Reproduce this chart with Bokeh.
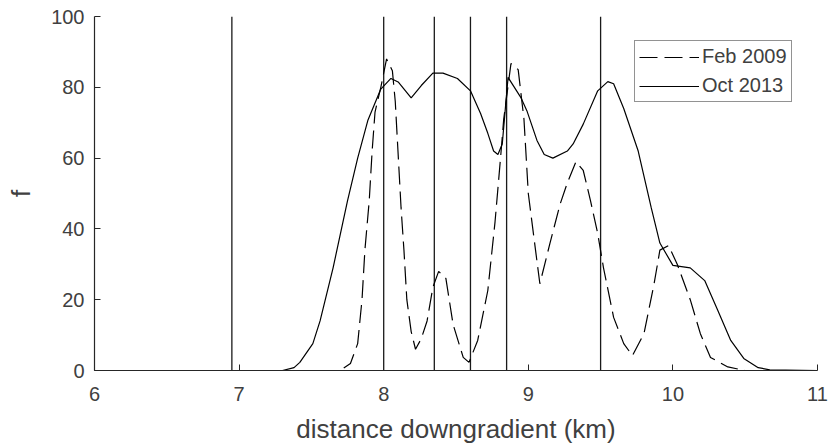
from bokeh.plotting import figure
from bokeh.models import Range1d, Legend, LegendItem, FixedTicker, ColumnDataSource
from bokeh.embed import file_html
from bokeh.resources import INLINE

# --- data ---
oct2013_x = [6.0, 7.3, 7.38, 7.42, 7.51, 7.56, 7.65, 7.75, 7.82, 7.89, 7.98, 8.05, 8.1,
             8.19, 8.26, 8.34, 8.41, 8.51, 8.6, 8.67, 8.72, 8.76, 8.79, 8.82, 8.86, 8.95,
             8.99, 9.06, 9.11, 9.17, 9.27, 9.31, 9.38, 9.48, 9.55, 9.59, 9.66, 9.76, 9.85,
             9.91, 10.0, 10.12, 10.22, 10.31, 10.4, 10.49, 10.59, 10.67, 11.0]
oct2013_y = [0, 0, 0.8, 2.3, 7.6, 14, 29, 48, 60, 70.6, 79.5, 82.5, 81.5,
             77, 80.5, 84, 84, 82.5, 79, 72.6, 67, 62, 61, 64, 82.8, 77,
             73.4, 65, 61, 60, 62, 64, 69.6, 79, 81.6, 81, 74, 62, 46,
             36, 29.7, 29, 25.4, 17, 8.5, 3.4, 0.8, 0.2, 0]

feb2009_x = [6.0, 7.7, 7.77, 7.82, 7.85, 7.87, 7.9, 7.92, 7.94, 7.98, 8.02, 8.06, 8.08,
             8.1, 8.12, 8.14, 8.16, 8.19, 8.22, 8.26, 8.3, 8.34, 8.38, 8.43, 8.48, 8.55,
             8.59, 8.65, 8.72, 8.77, 8.81, 8.83, 8.88, 8.93, 8.97, 9.0, 9.05, 9.08, 9.15,
             9.22, 9.27, 9.33, 9.38, 9.43, 9.48, 9.52, 9.59, 9.66, 9.72, 9.8, 9.87, 9.91,
             9.97, 10.03, 10.12, 10.19, 10.26, 10.38, 10.5, 11.0]
feb2009_y = [0, 0, 2, 7.6, 20, 34, 48, 62, 73, 80, 88, 84.7, 76,
             61, 46, 34, 20, 11, 6, 9, 14, 23.5, 28, 26, 13, 3.7,
             2.3, 8.5, 22.6, 42, 61, 71, 86.7, 85, 71, 50, 34, 24.5, 36,
             47, 53, 59, 56.5, 48, 38.7, 29, 15, 7.6, 4.2, 10.4, 24.5, 34,
             35.3, 30, 20, 10.4, 3.7, 1, 0, 0]

vline_x = [6.95, 8.0, 8.35, 8.6, 8.85, 9.5]

x_ticks = [6, 7, 8, 9, 10, 11]
y_ticks = [0, 20, 40, 60, 80, 100]

series_labels = ["Feb 2009", "Oct 2013"]

FONT = "Liberation Sans"
TXT = "#262626"
LBL = "#404040"

p = figure(width=830, height=446, output_backend="svg", toolbar_location=None,
           x_range=Range1d(6, 11), y_range=Range1d(0, 100),
           min_border_left=94, min_border_right=13, min_border_top=16, min_border_bottom=76)
p.outline_line_color = None
p.xgrid.visible = False
p.ygrid.visible = False
p.background_fill_color = "white"
p.border_fill_color = "white"

vsrc = ColumnDataSource(dict(x=vline_x, y0=[0] * len(vline_x), y1=[100] * len(vline_x)))
p.segment(x0="x", y0="y0", x1="x", y1="y1", source=vsrc, line_color="#1a1a1a", line_width=1.3)

r_feb = p.line(feb2009_x, feb2009_y, line_color="black", line_width=1.2, line_dash="18 7")
r_oct = p.line(oct2013_x, oct2013_y, line_color="black", line_width=1.2)

for ax in (p.xaxis[0], p.yaxis[0]):
    ax.axis_line_color = TXT
    ax.axis_line_width = 1.2
    ax.major_tick_line_color = TXT
    ax.major_tick_in = 6
    ax.major_tick_out = 0
    ax.minor_tick_line_color = None
    ax.major_label_text_font = FONT
    ax.major_label_text_color = LBL
    ax.major_label_text_font_size = "20px"
    ax.axis_label_text_font = FONT
    ax.axis_label_text_color = LBL
    ax.axis_label_text_font_style = "normal"
    ax.axis_label_text_font_size = "26px"

p.xaxis.ticker = FixedTicker(ticks=x_ticks)
p.yaxis.ticker = FixedTicker(ticks=y_ticks)
p.xaxis.axis_label = "distance downgradient (km)"
p.yaxis.axis_label = "f"
p.xaxis.major_label_standoff = 16
p.yaxis.major_label_standoff = 10
p.xaxis.axis_label_standoff = 10
p.yaxis.axis_label_standoff = 12

legend = Legend(items=[LegendItem(label=series_labels[0], renderers=[r_feb]),
                       LegendItem(label=series_labels[1], renderers=[r_oct])],
                location=(540, 268))
legend.border_line_color = TXT
legend.border_line_width = 1
legend.background_fill_color = "white"
legend.background_fill_alpha = 1
legend.label_text_font = FONT
legend.label_text_color = LBL
legend.label_text_font_size = "20px"
legend.glyph_width = 60
legend.glyph_height = 20
legend.label_height = 20
legend.label_standoff = 3
legend.padding = 4
legend.spacing = 6
legend.margin = 0
p.add_layout(legend, "center")

open("out.html", "w").write(file_html(p, INLINE))
